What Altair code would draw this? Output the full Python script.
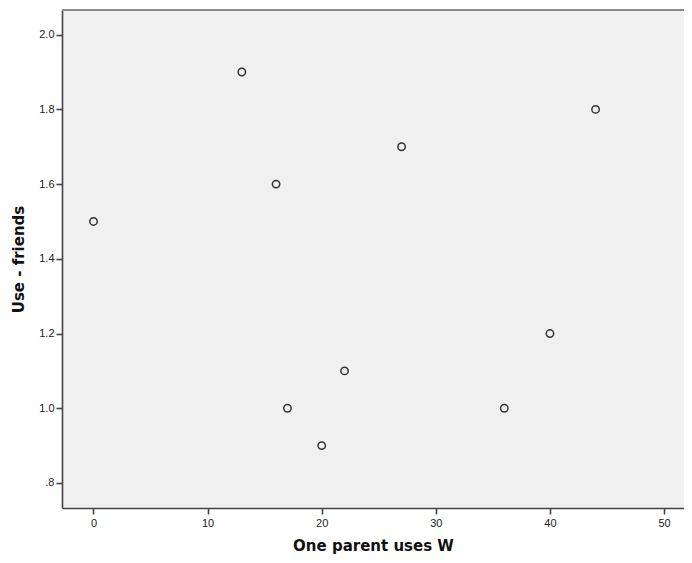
import altair as alt
import pandas as pd

x_vals = [0, 13, 16, 17, 20, 22, 27, 36, 40, 44]
y_vals = [1.5, 1.9, 1.6, 1.0, 0.9, 1.1, 1.7, 1.0, 1.2, 1.8]
x_ticks = [0, 10, 20, 30, 40, 50]
y_ticks = [0.8, 1.0, 1.2, 1.4, 1.6, 1.8, 2.0]

df = pd.DataFrame({"x": x_vals, "y": y_vals})

points = alt.Chart(df).mark_point(
    shape="circle", filled=False, size=55, strokeWidth=1.5, color="#333333", opacity=1
).encode(
    x=alt.X("x:Q", scale=alt.Scale(domain=[-2.76, 51.75], nice=False, zero=False),
            axis=alt.Axis(title="One parent uses W", values=x_ticks, grid=False,
                          tickSize=6, labelPadding=3, titlePadding=10)),
    y=alt.Y("y:Q", scale=alt.Scale(domain=[0.733, 2.066], nice=False, zero=False),
            axis=alt.Axis(title="Use - friends", values=y_ticks, grid=False,
                          tickSize=6, labelPadding=2, titlePadding=12,
                          labelExpr="datum.value < 1 ? substring(format(datum.value, '.1f'), 1) : format(datum.value, '.1f')")),
)

top_border = alt.Chart(df).mark_rule(color="#8a8a8a", strokeWidth=2).encode(
    y=alt.value(0), x=alt.value(0), x2=alt.value(640)
)

chart = alt.layer(points, top_border).properties(
    width=622, height=498,
    autosize=alt.AutoSizeParams(type="none"),
    padding={"left": 54, "top": 2, "right": 0, "bottom": 47},
).configure_view(
    fill="#F0F0F0", strokeWidth=0
).configure_axis(
    domainColor="#444444", domainWidth=1.6, tickColor="#444444", tickWidth=1.6,
    labelFont="Liberation Sans", labelFontSize=11, labelColor="#222222",
    titleFont="DejaVu Sans", titleFontSize=15, titleFontWeight="bold", titleColor="#111111"
)

chart.save("out.html", embed_options={"renderer": "svg", "actions": False})
